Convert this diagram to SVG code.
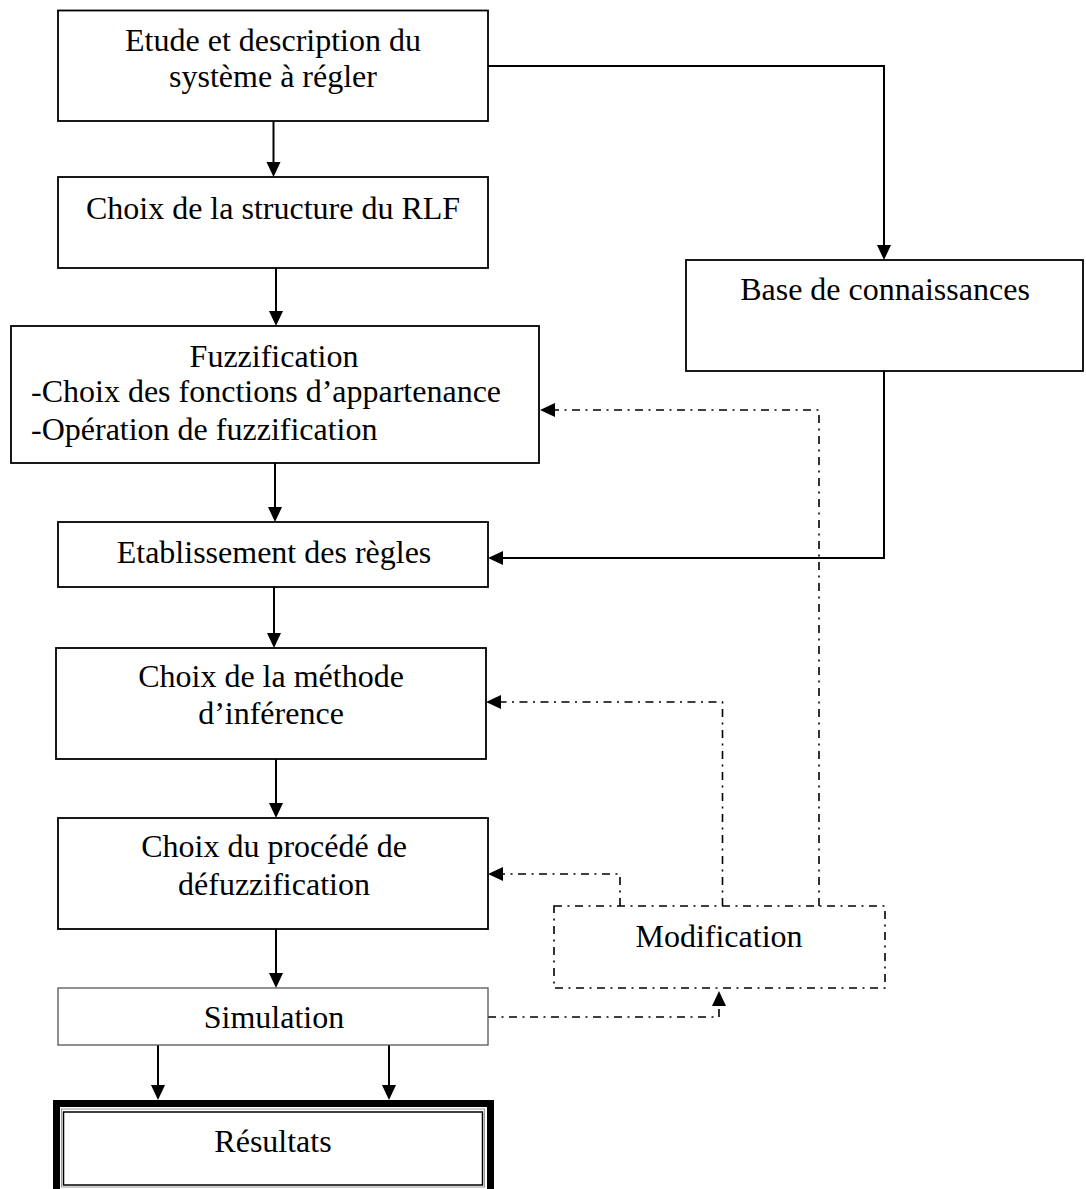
<svg xmlns="http://www.w3.org/2000/svg" width="1086" height="1189" viewBox="0 0 1086 1189">
  <defs>
    <style>
      .box { fill: #fff; stroke: #000; stroke-width: 1.8; }
      .sim { fill: #fff; stroke: #555; stroke-width: 1.3; }
      .dashbox { fill: none; stroke: #000; stroke-width: 1.6; stroke-dasharray: 8 5.5 2 5.5; }
      .lbl { font-family: "Liberation Serif", "Times New Roman", serif; font-size: 32px; fill: #000; }
      .mid { text-anchor: middle; }
      .link { fill: none; stroke: #000; stroke-width: 2; }
      .dlink { fill: none; stroke: #000; stroke-width: 1.6; stroke-dasharray: 8 5.5 2 5.5; }
    </style>
    <marker id="arrow" markerUnits="userSpaceOnUse" markerWidth="16" markerHeight="16" refX="12" refY="7" orient="auto">
      <path d="M0,0 L15,7 L0,14 z" fill="#000"/>
    </marker>
  </defs>
  <rect width="1086" height="1189" fill="#fff"/>

  <!-- connectors -->
  <g id="connectors">
    <path class="link" d="M273.5,121 V174" marker-end="url(#arrow)"/>
    <path class="link" d="M276,268 V323" marker-end="url(#arrow)"/>
    <path class="link" d="M275,463 V519" marker-end="url(#arrow)"/>
    <path class="link" d="M274,587 V645" marker-end="url(#arrow)"/>
    <path class="link" d="M276,759 V815" marker-end="url(#arrow)"/>
    <path class="link" d="M276,929 V985" marker-end="url(#arrow)"/>
    <path class="link" d="M158,1045 V1097" marker-end="url(#arrow)"/>
    <path class="link" d="M389,1045 V1097" marker-end="url(#arrow)"/>
    <path class="link" d="M488,66 H884 V257" marker-end="url(#arrow)"/>
    <path class="link" d="M884,371 V558 H491" marker-end="url(#arrow)"/>
    <path class="dlink" d="M488,1017 H719 V994" marker-end="url(#arrow)"/>
    <path class="dlink" d="M620,906 V874 H491" marker-end="url(#arrow)"/>
    <path class="dlink" d="M722.5,906 V702 H489" marker-end="url(#arrow)"/>
    <path class="dlink" d="M819,906 V410 H543" marker-end="url(#arrow)"/>
  </g>

  <g id="etude">
    <rect class="box" x="58" y="10.5" width="430" height="110.5"/>
    <text class="lbl mid" x="273" y="51">Etude et description du</text>
    <text class="lbl mid" x="273" y="87">système à régler</text>
  </g>

  <g id="structure">
    <rect class="box" x="58" y="177" width="430" height="91"/>
    <text class="lbl mid" x="273" y="219">Choix de la structure du RLF</text>
  </g>

  <g id="fuzzification">
    <rect class="box" x="11" y="326" width="528" height="137"/>
    <text class="lbl mid" x="274" y="367">Fuzzification</text>
    <text class="lbl" x="31" y="402">-Choix des fonctions d’appartenance</text>
    <text class="lbl" x="31" y="440">-Opération de fuzzification</text>
  </g>

  <g id="regles">
    <rect class="box" x="58" y="522" width="430" height="65"/>
    <text class="lbl mid" x="274" y="563">Etablissement des règles</text>
  </g>

  <g id="inference">
    <rect class="box" x="56" y="648" width="430" height="111"/>
    <text class="lbl mid" x="271" y="687">Choix de la méthode</text>
    <text class="lbl mid" x="271" y="724">d’inférence</text>
  </g>

  <g id="defuzzification">
    <rect class="box" x="58" y="818" width="430" height="111"/>
    <text class="lbl mid" x="274" y="857">Choix du procédé de</text>
    <text class="lbl mid" x="274" y="895">défuzzification</text>
  </g>

  <g id="simulation">
    <rect class="sim" x="58" y="988" width="430" height="57"/>
    <text class="lbl mid" x="274" y="1028">Simulation</text>
  </g>

  <g id="resultats">
    <rect x="56.5" y="1103.5" width="434" height="200" fill="#fff" stroke="#000" stroke-width="7"/>
    <rect x="61.5" y="1109" width="423" height="78" fill="none" stroke="#999" stroke-width="1"/>
    <rect x="63.5" y="1112" width="419" height="73" fill="none" stroke="#000" stroke-width="1.5"/>
    <text class="lbl mid" x="273" y="1152">Résultats</text>
  </g>

  <g id="base">
    <rect class="box" x="686" y="260" width="397" height="111"/>
    <text class="lbl mid" x="885" y="300">Base de connaissances</text>
  </g>

  <g id="modification">
    <rect class="dashbox" x="554" y="906" width="331" height="82"/>
    <text class="lbl mid" x="719" y="947">Modification</text>
  </g>
</svg>
